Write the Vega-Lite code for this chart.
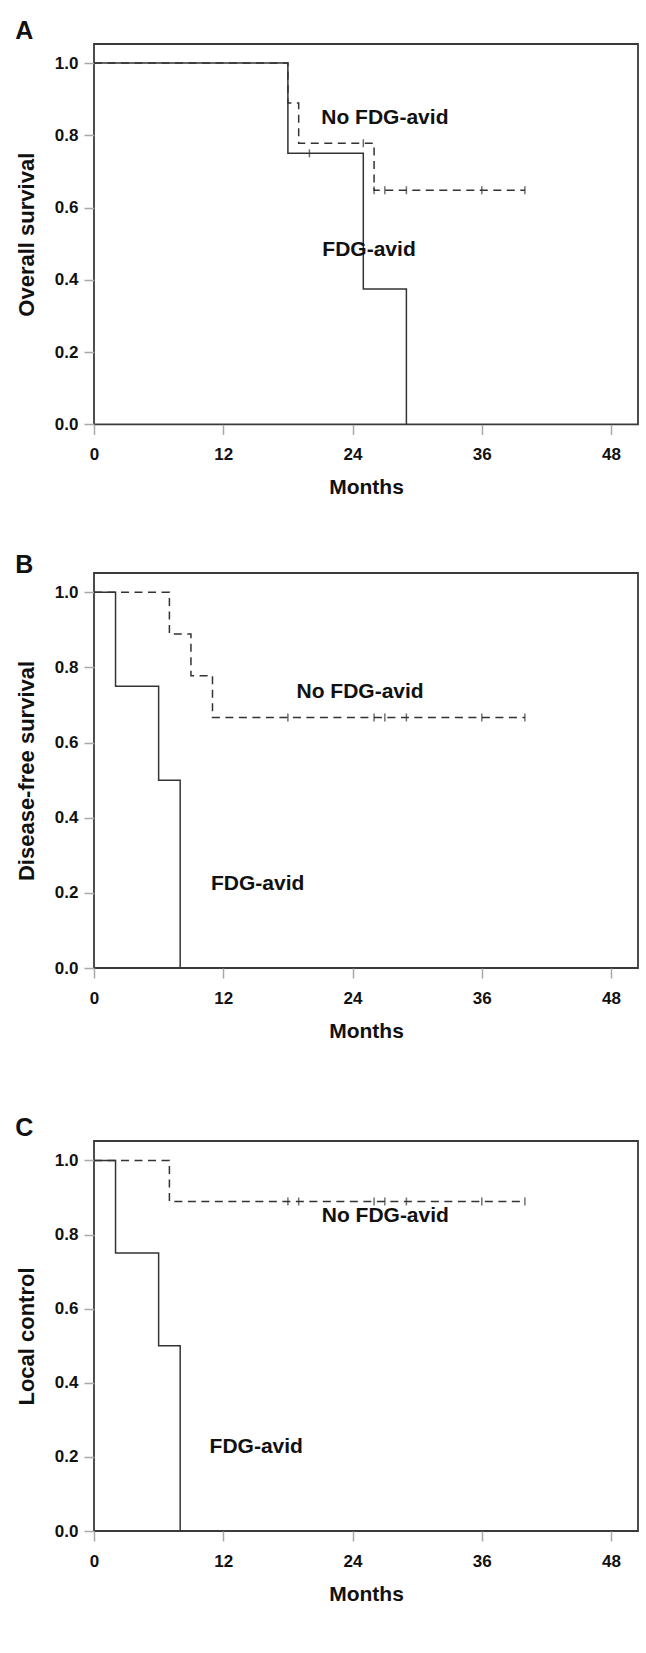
{
  "$schema": "https://vega.github.io/schema/vega-lite/v6.json",
  "padding": {"left": 14, "top": 18, "right": 5, "bottom": 5},
  "autosize": {"type": "pad"},
  "spacing": 53,
  "background": "white",
  "datasets": {
    "curves": [
      {"panel": "A", "group": "FDG-avid", "time": 0, "surv": 1.0},
      {"panel": "A", "group": "FDG-avid", "time": 18, "surv": 0.75},
      {"panel": "A", "group": "FDG-avid", "time": 25, "surv": 0.375},
      {"panel": "A", "group": "FDG-avid", "time": 29, "surv": 0.0},
      {"panel": "A", "group": "No FDG-avid", "time": 0, "surv": 1.0},
      {"panel": "A", "group": "No FDG-avid", "time": 18, "surv": 0.889},
      {"panel": "A", "group": "No FDG-avid", "time": 19, "surv": 0.778},
      {"panel": "A", "group": "No FDG-avid", "time": 26, "surv": 0.648},
      {"panel": "A", "group": "No FDG-avid", "time": 40, "surv": 0.648},
      {"panel": "B", "group": "FDG-avid", "time": 0, "surv": 1.0},
      {"panel": "B", "group": "FDG-avid", "time": 2, "surv": 0.75},
      {"panel": "B", "group": "FDG-avid", "time": 6, "surv": 0.5},
      {"panel": "B", "group": "FDG-avid", "time": 8, "surv": 0.0},
      {"panel": "B", "group": "No FDG-avid", "time": 0, "surv": 1.0},
      {"panel": "B", "group": "No FDG-avid", "time": 7, "surv": 0.889},
      {"panel": "B", "group": "No FDG-avid", "time": 9, "surv": 0.778},
      {"panel": "B", "group": "No FDG-avid", "time": 11, "surv": 0.667},
      {"panel": "B", "group": "No FDG-avid", "time": 40, "surv": 0.667},
      {"panel": "C", "group": "FDG-avid", "time": 0, "surv": 1.0},
      {"panel": "C", "group": "FDG-avid", "time": 2, "surv": 0.75},
      {"panel": "C", "group": "FDG-avid", "time": 6, "surv": 0.5},
      {"panel": "C", "group": "FDG-avid", "time": 8, "surv": 0.0},
      {"panel": "C", "group": "No FDG-avid", "time": 0, "surv": 1.0},
      {"panel": "C", "group": "No FDG-avid", "time": 7, "surv": 0.889},
      {"panel": "C", "group": "No FDG-avid", "time": 40, "surv": 0.889}
    ],
    "censors": [
      {"panel": "A", "group": "FDG-avid", "time": 20, "surv": 0.75},
      {"panel": "A", "group": "No FDG-avid", "time": 25, "surv": 0.778},
      {"panel": "A", "group": "No FDG-avid", "time": 26, "surv": 0.648},
      {"panel": "A", "group": "No FDG-avid", "time": 27, "surv": 0.648},
      {"panel": "A", "group": "No FDG-avid", "time": 29, "surv": 0.648},
      {"panel": "A", "group": "No FDG-avid", "time": 36, "surv": 0.648},
      {"panel": "A", "group": "No FDG-avid", "time": 40, "surv": 0.648},
      {"panel": "B", "group": "No FDG-avid", "time": 18, "surv": 0.667},
      {"panel": "B", "group": "No FDG-avid", "time": 26, "surv": 0.667},
      {"panel": "B", "group": "No FDG-avid", "time": 27, "surv": 0.667},
      {"panel": "B", "group": "No FDG-avid", "time": 29, "surv": 0.667},
      {"panel": "B", "group": "No FDG-avid", "time": 36, "surv": 0.667},
      {"panel": "B", "group": "No FDG-avid", "time": 40, "surv": 0.667},
      {"panel": "C", "group": "No FDG-avid", "time": 18, "surv": 0.889},
      {"panel": "C", "group": "No FDG-avid", "time": 19, "surv": 0.889},
      {"panel": "C", "group": "No FDG-avid", "time": 26, "surv": 0.889},
      {"panel": "C", "group": "No FDG-avid", "time": 27, "surv": 0.889},
      {"panel": "C", "group": "No FDG-avid", "time": 29, "surv": 0.889},
      {"panel": "C", "group": "No FDG-avid", "time": 36, "surv": 0.889},
      {"panel": "C", "group": "No FDG-avid", "time": 40, "surv": 0.889}
    ],
    "labels": [
      {"panel": "A", "label": "No FDG-avid", "time": 21.1, "surv": 0.847},
      {"panel": "A", "label": "FDG-avid", "time": 21.2, "surv": 0.482},
      {"panel": "B", "label": "No FDG-avid", "time": 18.8, "surv": 0.735},
      {"panel": "B", "label": "FDG-avid", "time": 10.86, "surv": 0.223},
      {"panel": "C", "label": "No FDG-avid", "time": 21.14, "surv": 0.849},
      {"panel": "C", "label": "FDG-avid", "time": 10.73, "surv": 0.227}
    ]
  },
  "config": {
    "font": "Liberation Sans",
    "view": {"stroke": "#3a3a3a", "strokeWidth": 1.8},
    "axis": {
      "grid": false, "domain": false,
      "tickColor": "#a8a8a8", "tickWidth": 1.5, "tickSize": 10,
      "labelFont": "Liberation Sans", "labelFontSize": 17, "labelFontWeight": "bold", "labelColor": "#111111",
      "labelFlush": false, "labelOverlap": false,
      "titleFont": "Liberation Sans", "titleFontSize": 21, "titleFontWeight": "bold", "titleColor": "#111111"
    },
    "axisX": {"labelPadding": 12, "titlePadding": 14},
    "axisY": {"labelPadding": 6, "titlePadding": 16, "titleFontSize": 22},
    "title": {"anchor": "start", "frame": "bounds", "baseline": "bottom", "fontSize": 25, "fontWeight": "bold", "color": "#111111", "font": "Liberation Sans"}
  },
  "vconcat": [
    {
      "width": 544, "height": 380.4,
      "title": {"text": "A", "offset": 0},
      "layer": [
        {
          "data": {"name": "curves"},
          "transform": [{"filter": "datum.panel === 'A'"}],
          "mark": {"type": "line", "interpolate": "step-after", "color": "#333333", "strokeWidth": 1.5},
          "encoding": {
            "x": {"field": "time", "type": "quantitative", "scale": {"domain": [0, 50.5], "nice": false, "zero": true}, "axis": {"values": [0, 12, 24, 36, 48], "title": "Months"}},
            "y": {"field": "surv", "type": "quantitative", "scale": {"domain": [0, 1.0526], "nice": false}, "axis": {"values": [0, 0.2, 0.4, 0.6, 0.8, 1.0], "format": ".1f", "title": "Overall survival"}},
            "strokeDash": {"field": "group", "type": "nominal", "scale": {"domain": ["FDG-avid", "No FDG-avid"], "range": [[1, 0], [8, 5.5]]}, "legend": null}
          }
        },
        {
          "data": {"name": "censors"},
          "transform": [{"filter": "datum.panel === 'A'"}],
          "mark": {"type": "tick", "orient": "vertical", "size": 8, "thickness": 1.5, "color": "#333333"},
          "encoding": {
            "x": {"field": "time", "type": "quantitative", "scale": {"domain": [0, 50.5], "nice": false, "zero": true}},
            "y": {"field": "surv", "type": "quantitative", "scale": {"domain": [0, 1.0526], "nice": false}}
          }
        },
        {
          "data": {"name": "labels"},
          "transform": [{"filter": "datum.panel === 'A'"}],
          "mark": {"type": "text", "align": "left", "baseline": "middle", "fontSize": 21, "fontWeight": "bold", "color": "#111111", "font": "Liberation Sans"},
          "encoding": {
            "x": {"field": "time", "type": "quantitative", "scale": {"domain": [0, 50.5], "nice": false, "zero": true}},
            "y": {"field": "surv", "type": "quantitative", "scale": {"domain": [0, 1.0526], "nice": false}},
            "text": {"field": "label", "type": "nominal"}
          }
        }
      ]
    },
    {
      "width": 544, "height": 395,
      "title": {"text": "B", "offset": -5},
      "layer": [
        {
          "data": {"name": "curves"},
          "transform": [{"filter": "datum.panel === 'B'"}],
          "mark": {"type": "line", "interpolate": "step-after", "color": "#333333", "strokeWidth": 1.5},
          "encoding": {
            "x": {"field": "time", "type": "quantitative", "scale": {"domain": [0, 50.5], "nice": false, "zero": true}, "axis": {"values": [0, 12, 24, 36, 48], "title": "Months"}},
            "y": {"field": "surv", "type": "quantitative", "scale": {"domain": [0, 1.0514], "nice": false}, "axis": {"values": [0, 0.2, 0.4, 0.6, 0.8, 1.0], "format": ".1f", "title": "Disease-free survival"}},
            "strokeDash": {"field": "group", "type": "nominal", "scale": {"domain": ["FDG-avid", "No FDG-avid"], "range": [[1, 0], [8, 5.5]]}, "legend": null}
          }
        },
        {
          "data": {"name": "censors"},
          "transform": [{"filter": "datum.panel === 'B'"}],
          "mark": {"type": "tick", "orient": "vertical", "size": 8, "thickness": 1.5, "color": "#333333"},
          "encoding": {
            "x": {"field": "time", "type": "quantitative", "scale": {"domain": [0, 50.5], "nice": false, "zero": true}},
            "y": {"field": "surv", "type": "quantitative", "scale": {"domain": [0, 1.0514], "nice": false}}
          }
        },
        {
          "data": {"name": "labels"},
          "transform": [{"filter": "datum.panel === 'B'"}],
          "mark": {"type": "text", "align": "left", "baseline": "middle", "fontSize": 21, "fontWeight": "bold", "color": "#111111", "font": "Liberation Sans"},
          "encoding": {
            "x": {"field": "time", "type": "quantitative", "scale": {"domain": [0, 50.5], "nice": false, "zero": true}},
            "y": {"field": "surv", "type": "quantitative", "scale": {"domain": [0, 1.0514], "nice": false}},
            "text": {"field": "label", "type": "nominal"}
          }
        }
      ]
    },
    {
      "width": 544, "height": 390,
      "title": {"text": ["", "C"], "offset": 0, "lineHeight": 20},
      "layer": [
        {
          "data": {"name": "curves"},
          "transform": [{"filter": "datum.panel === 'C'"}],
          "mark": {"type": "line", "interpolate": "step-after", "color": "#333333", "strokeWidth": 1.5},
          "encoding": {
            "x": {"field": "time", "type": "quantitative", "scale": {"domain": [0, 50.5], "nice": false, "zero": true}, "axis": {"values": [0, 12, 24, 36, 48], "title": "Months"}},
            "y": {"field": "surv", "type": "quantitative", "scale": {"domain": [0, 1.0523], "nice": false}, "axis": {"values": [0, 0.2, 0.4, 0.6, 0.8, 1.0], "format": ".1f", "title": "Local control"}},
            "strokeDash": {"field": "group", "type": "nominal", "scale": {"domain": ["FDG-avid", "No FDG-avid"], "range": [[1, 0], [8, 5.5]]}, "legend": null}
          }
        },
        {
          "data": {"name": "censors"},
          "transform": [{"filter": "datum.panel === 'C'"}],
          "mark": {"type": "tick", "orient": "vertical", "size": 8, "thickness": 1.5, "color": "#333333"},
          "encoding": {
            "x": {"field": "time", "type": "quantitative", "scale": {"domain": [0, 50.5], "nice": false, "zero": true}},
            "y": {"field": "surv", "type": "quantitative", "scale": {"domain": [0, 1.0523], "nice": false}}
          }
        },
        {
          "data": {"name": "labels"},
          "transform": [{"filter": "datum.panel === 'C'"}],
          "mark": {"type": "text", "align": "left", "baseline": "middle", "fontSize": 21, "fontWeight": "bold", "color": "#111111", "font": "Liberation Sans"},
          "encoding": {
            "x": {"field": "time", "type": "quantitative", "scale": {"domain": [0, 50.5], "nice": false, "zero": true}},
            "y": {"field": "surv", "type": "quantitative", "scale": {"domain": [0, 1.0523], "nice": false}},
            "text": {"field": "label", "type": "nominal"}
          }
        }
      ]
    }
  ]
}
